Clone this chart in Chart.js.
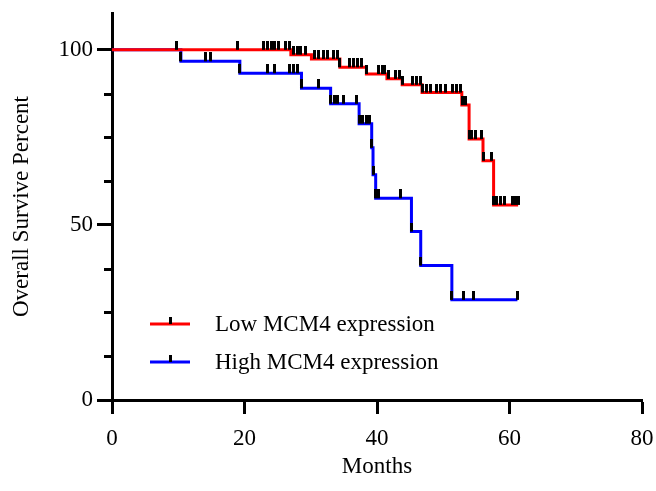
<!DOCTYPE html>
<html>
<head>
<meta charset="utf-8">
<script src="https://cdn.jsdelivr.net/npm/chart.js@4.4.1/dist/chart.umd.min.js"></script>
<style>
  html, body { margin: 0; padding: 0; background: #fff; }
</style>
</head>
<body>
<canvas id="kmChart" width="656" height="491"></canvas>
<script>
// Kaplan-Meier steps: time of event (months) and survival after it (%)
const lowTimes = [0, 27.0, 30.1, 34.4, 38.4, 41.5, 43.8, 46.8, 52.8, 53.9, 56.0, 57.6, 61.3];
const lowSurv = [100, 98.6, 97.4, 95.0, 93.1, 91.7, 90.0, 87.8, 84.2, 74.5, 68.3, 55.7, 55.7];
const lowCensored = [9.8, 19.0, 22.9, 23.4, 24.0, 24.6, 25.2, 26.2, 26.8, 27.4, 28.0, 28.5,
  29.2, 30.5, 31.1, 31.9, 32.5, 33.5, 34.0, 34.4, 35.8, 36.4, 37.0, 37.6, 38.4, 40.3,
  40.8, 41.2, 41.8, 42.8, 43.4, 43.8, 45.3, 45.9, 46.5, 46.9, 47.5, 48.0, 49.0, 49.6,
  50.3, 51.4, 52.0, 52.6, 52.9, 53.3, 53.9, 54.3, 54.8, 55.8, 56.0, 57.3, 57.6, 58.1,
  58.6, 59.3, 60.4, 60.9, 61.3];

const highTimes = [0, 10.4, 19.3, 28.6, 33.0, 37.3, 39.2, 39.4, 39.8, 45.2, 46.6, 51.3, 61.2];
const highSurv = [100, 96.7, 93.3, 89.0, 84.6, 78.9, 72.0, 64.3, 57.6, 48.1, 38.4, 28.6, 28.6];
const highCensored = [10.4, 14.1, 14.8, 19.3, 23.4, 24.6, 26.8, 27.4, 28.0, 28.6, 31.1,
  33.0, 33.6, 34.1, 34.9, 36.9, 37.3, 37.8, 38.4, 38.9, 39.2, 39.4, 39.8, 40.2, 43.6,
  45.2, 46.6, 51.3, 53.0, 54.5, 61.2];

const seriesNames = ['Low MCM4 expression', 'High MCM4 expression'];
const xTickValues = [0, 20, 40, 60, 80];
const yTickValues = [0, 12.5, 25, 37.5, 50, 62.5, 75, 87.5, 100];
const yLabelValues = [0, 50, 100];

const FONT = 'Liberation Serif, Times New Roman, serif';

function survivalAt(times, surv, t) {
  let s = surv[0];
  for (let i = 0; i < times.length; i++) {
    if (times[i] <= t) s = surv[i];
  }
  return s;
}

function steps(times, surv) {
  return times.map((t, i) => ({ x: t, y: surv[i] }));
}

function censorPoints(list, times, surv) {
  return list.map(t => ({ x: t, y: survivalAt(times, surv, t) }));
}

// censor tick: black bar sitting on top of the curve
function makeCensorMark() {
  const c = document.createElement('canvas');
  c.width = 3;
  c.height = 18;
  const g = c.getContext('2d');
  g.fillStyle = '#000';
  g.fillRect(0, 0, 3, 9);
  return c;
}
const censorMark = makeCensorMark();

const minorTicks = {
  id: 'minorTicks',
  afterDraw(chart) {
    const ctx = chart.ctx;
    const y = chart.scales.y;
    const left = chart.chartArea.left;
    ctx.save();
    ctx.strokeStyle = '#000';
    ctx.lineWidth = 3;
    yTickValues.filter(v => !yLabelValues.includes(v)).forEach(v => {
      const py = Math.round(y.getPixelForValue(v)) + 0.5;
      ctx.beginPath();
      ctx.moveTo(left - 8, py);
      ctx.lineTo(left, py);
      ctx.stroke();
    });
    ctx.restore();
  }
};

const kmLegend = {
  id: 'kmLegend',
  afterDraw(chart) {
    const ctx = chart.ctx;
    const rows = [
      { label: seriesNames[0], color: '#ff0000', y: 324 },
      { label: seriesNames[1], color: '#0000ff', y: 362 }
    ];
    ctx.save();
    rows.forEach(r => {
      ctx.strokeStyle = r.color;
      ctx.lineWidth = 3;
      ctx.beginPath();
      ctx.moveTo(150, r.y);
      ctx.lineTo(190, r.y);
      ctx.stroke();
      ctx.fillStyle = '#000';
      ctx.fillRect(169, r.y - 7, 3, 7);
      ctx.font = '23px ' + FONT;
      ctx.textBaseline = 'middle';
      ctx.textAlign = 'left';
      ctx.fillText(r.label, 215, r.y + 1);
    });
    ctx.restore();
  }
};

const ctx = document.getElementById('kmChart').getContext('2d');
new Chart(ctx, {
  type: 'line',
  data: {
    datasets: [
      {
        label: 'censored low',
        data: censorPoints(lowCensored, lowTimes, lowSurv),
        showLine: false,
        pointStyle: censorMark,
        pointRadius: 5
      },
      {
        label: 'censored high',
        data: censorPoints(highCensored, highTimes, highSurv),
        showLine: false,
        pointStyle: censorMark,
        pointRadius: 5
      },
      {
        label: seriesNames[0],
        data: steps(lowTimes, lowSurv),
        stepped: 'before',
        borderColor: '#ff0000',
        borderWidth: 3,
        pointRadius: 0,
        fill: false
      },
      {
        label: seriesNames[1],
        data: steps(highTimes, highSurv),
        stepped: 'before',
        borderColor: '#0000ff',
        borderWidth: 3,
        pointRadius: 0,
        fill: false
      }
    ]
  },
  options: {
    responsive: false,
    animation: false,
    layout: { padding: { left: 0, right: 14, top: 13, bottom: 0 } },
    plugins: {
      legend: { display: false },
      tooltip: { enabled: false }
    },
    scales: {
      x: {
        type: 'linear',
        min: 0,
        max: 80,
        afterFit: s => { s.height = 91; s.paddingLeft = 0; s.paddingRight = 0; },
        afterBuildTicks: s => { s.ticks = xTickValues.map(v => ({ value: v })); },
        border: { color: '#000', width: 3 },
        grid: { drawOnChartArea: false, drawTicks: true, tickLength: 14, tickWidth: 3, tickColor: '#000' },
        ticks: { color: '#000', font: { family: FONT, size: 23 }, padding: 11, maxRotation: 0 },
        title: { display: true, text: 'Months', color: '#000', font: { family: FONT, size: 23 }, padding: { top: 4, bottom: 10 } }
      },
      y: {
        type: 'linear',
        min: 0,
        max: 110.5,
        afterFit: s => { s.width = 112; s.paddingTop = 0; s.paddingBottom = 0; },
        afterBuildTicks: s => { s.ticks = yTickValues.map(v => ({ value: v })); },
        border: { color: '#000', width: 3 },
        grid: {
          drawOnChartArea: false,
          drawTicks: true,
          tickLength: 15,
          tickWidth: 3,
          tickColor: c => yLabelValues.includes(c.tick.value) ? '#000' : 'rgba(0,0,0,0)'
        },
        ticks: {
          color: '#000',
          font: { family: FONT, size: 23 },
          padding: 4,
          callback: v => yLabelValues.includes(v) ? String(v) : ''
        },
        title: { display: true, text: 'Overall Survive Percent', color: '#000', font: { family: FONT, size: 23 }, padding: { top: 8, bottom: 0 } }
      }
    }
  },
  plugins: [minorTicks, kmLegend]
});
</script>
</body>
</html>
